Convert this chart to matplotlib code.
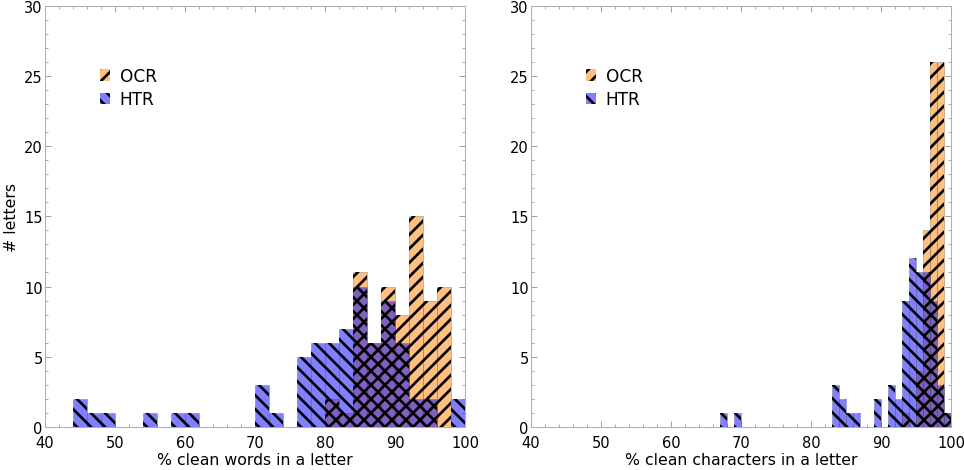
import matplotlib
matplotlib.use("Agg")
import matplotlib.pyplot as plt
import numpy as np
from matplotlib.patches import Patch
from matplotlib.ticker import MultipleLocator

# ---------------- data ----------------
words_bin_start = list(range(40, 100, 2))          # bin width 2
words_ocr = [0, 0, 0, 0, 0, 0, 0, 0, 0, 0,
             0, 0, 0, 0, 0, 0, 0, 0, 0, 0,
             2, 1, 11, 6, 10, 8, 15, 9, 10, 0]
words_htr = [0, 0, 2, 1, 1, 0, 0, 1, 0, 1,
             1, 0, 0, 0, 0, 3, 1, 0, 5, 6,
             6, 7, 10, 6, 9, 6, 2, 2, 0, 2]

chars_bin_start = list(range(40, 100, 1))          # bin width 1
chars_ocr = [0] * 50 + [0, 0, 0, 1, 0, 4, 14, 26, 26, 1]
chars_htr = ([0] * 20 + [0, 0, 0, 0, 0, 0, 0, 1, 0, 1]
             + [0] * 10 + [0, 0, 0, 3, 2, 1, 1, 0, 0, 2]
             + [0, 3, 2, 9, 12, 11, 11, 9, 3, 1])

xlabels = ["% clean words in a letter", "% clean characters in a letter"]
ylabel = "# letters"
series_names = ["OCR", "HTR"]

# ---------------- style ----------------
DPI = 84
plt.rcParams["hatch.linewidth"] = 2.3
plt.rcParams["font.family"] = ["DejaVu Sans"]

OCR_FACE = (1.0, 0.5, 0.0, 0.5)
HTR_FACE = (0.0, 0.0, 1.0, 0.5)
EDGE = (0.35, 0.35, 0.35, 0.35)

fig = plt.figure(figsize=(965 / DPI, 471 / DPI), dpi=DPI)
ax1 = fig.add_axes([45 / 965, 1 - 428 / 471, 420 / 965, 421.5 / 471])
ax2 = fig.add_axes([531 / 965, 1 - 428 / 471, 420 / 965, 421.5 / 471])


def draw(ax, starts, width, ocr, htr, xlabel, show_ylabel):
    starts = np.asarray(starts, dtype=float)
    ocr = np.asarray(ocr)
    htr = np.asarray(htr)
    mo = ocr > 0
    mh = htr > 0
    # fills
    ax.bar(starts[mo], ocr[mo], width=width, align="edge",
           facecolor=OCR_FACE, edgecolor=EDGE, linewidth=0.8, zorder=2)
    ax.bar(starts[mh], htr[mh], width=width, align="edge",
           facecolor=HTR_FACE, edgecolor=EDGE, linewidth=0.8, zorder=3)
    # hatches (black)
    ax.bar(starts[mo], ocr[mo], width=width, align="edge",
           facecolor="none", edgecolor="black", linewidth=0, hatch="//", zorder=4)
    ax.bar(starts[mh], htr[mh], width=width, align="edge",
           facecolor="none", edgecolor="black", linewidth=0, hatch="\\\\", zorder=5)

    ax.set_xlim(40, 100)
    ax.set_ylim(0, 30)
    ax.xaxis.set_major_locator(MultipleLocator(10))
    ax.xaxis.set_minor_locator(MultipleLocator(2))
    ax.yaxis.set_major_locator(MultipleLocator(5))
    ax.yaxis.set_minor_locator(MultipleLocator(1))
    ax.tick_params(which="both", direction="in", top=True, right=True,
                   color="#999999", labelsize=12.5)
    ax.tick_params(axis="x", pad=6.5)
    ax.tick_params(axis="y", pad=2)
    ax.tick_params(which="major", length=5, width=0.8)
    ax.tick_params(which="minor", length=2.5, width=0.7)
    for s in ax.spines.values():
        s.set_color("#b0b0b0")
        s.set_linewidth(0.9)
    ax.set_xlabel(xlabel, fontsize=13.5, labelpad=2)
    if show_ylabel:
        ax.set_ylabel(ylabel, fontsize=13.5, labelpad=4)

    handles = [Patch(facecolor=OCR_FACE, edgecolor="black", linewidth=0, hatch="//"),
               Patch(facecolor=HTR_FACE, edgecolor="black", linewidth=0, hatch="\\\\")]
    ax.legend(handles, series_names, loc="upper left", bbox_to_anchor=(0.115, 0.87),
              frameon=False, fontsize=14.5, handlelength=0.6, handleheight=0.65,
              handletextpad=0.55, labelspacing=0.3, borderaxespad=0)


draw(ax1, words_bin_start, 2, words_ocr, words_htr, xlabels[0], True)
draw(ax2, chars_bin_start, 1, chars_ocr, chars_htr, xlabels[1], False)

fig.savefig("out.png", dpi=DPI)
